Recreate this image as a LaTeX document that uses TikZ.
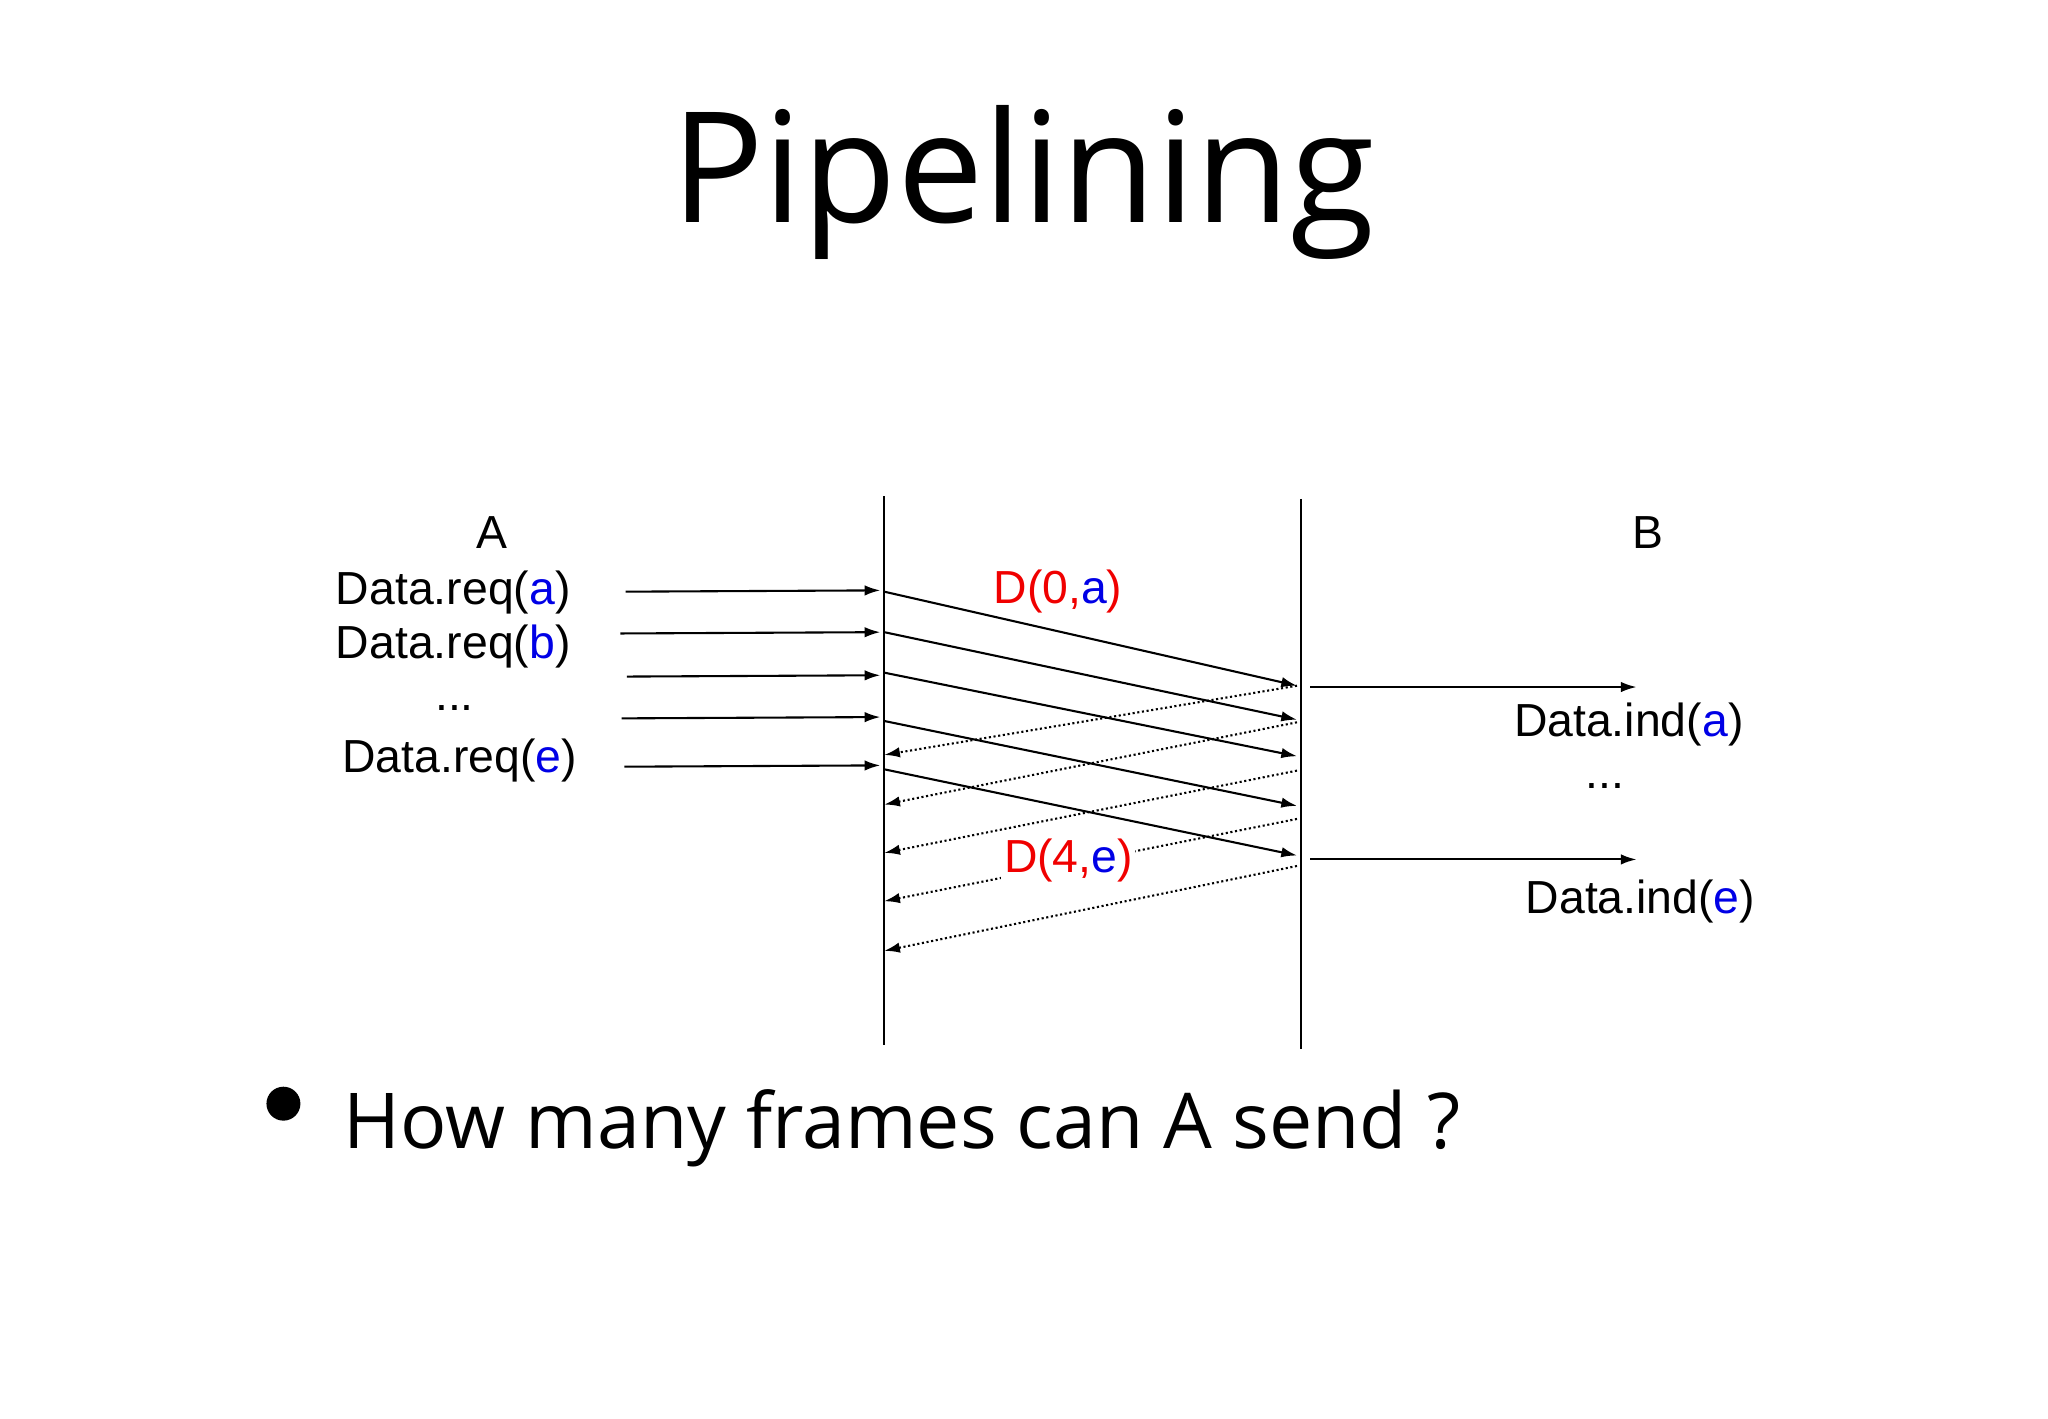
\documentclass[tikz,border=0pt]{standalone}
\usepackage{fontspec}
\setmainfont{Liberation Sans}
\newfontfamily\titlefont{Open Sans}
\usetikzlibrary{arrows.meta}
\definecolor{myblue}{RGB}{0,0,230}
\definecolor{myred}{RGB}{240,0,0}
\begin{document}
\begin{tikzpicture}[x=1pt,y=-1pt,
  lbl/.style={font=\fontsize{35.5}{40}\selectfont,inner sep=0pt},
  arr/.style={line width=1.6pt,-{Latex[length=12pt,width=8pt]}},
  ack/.style={line width=1.6pt,dotted,-{Latex[length=12pt,width=8pt]}}]
\useasboundingbox (0,0) rectangle (1568,1086);
\node[font=\titlefont\fontsize{118}{130}\selectfont] (title) at (783,140) {Pipelining};
% lifelines
\coordinate (a1) at (677,380); \coordinate (a2) at (677,800);
\coordinate (b1) at (996,382); \coordinate (b2) at (996,803);
\draw[line width=1.8pt] (a1) -- (a2);
\draw[line width=1.8pt] (b1) -- (b2);
\node[lbl] (A) at (377,408) {A};
\node[lbl] (B) at (1262,408) {B};
% requests
\node[lbl] (ra) at (347,454) {Data.req(\textcolor{myblue}{a})};
\node[lbl] (rb) at (347,495) {Data.req(\textcolor{myblue}{b})};
\node[lbl] (rd) at (348,542) {...};
\node[lbl] (re) at (352,582) {Data.req(\textcolor{myblue}{e})};
\foreach \i/\xs/\y in {1/479/453,2/475/485,3/480/518,4/476/550,5/478/587}{
  \coordinate (q\i) at (\xs,\y); \coordinate (qe\i) at (674,\y-1);
  \draw[arr] (q\i) -- (qe\i);}
% data frames
\foreach \i/\ys/\ye in {1/453/525,2/484/551,3/515/579,4/552/617,5/589/655}{
  \coordinate (ds\i) at (677,\ys); \coordinate (de\i) at (993,\ye);
  \draw[arr] (ds\i) -- (de\i);}
% acks
\foreach \i/\ys/\ye in {1/525/578,2/553/616,3/590/653,4/627/690,5/663/728}{
  \coordinate (ks\i) at (993,\ys); \coordinate (ke\i) at (677,\ye);
  \draw[ack] (ks\i) -- (ke\i);}
\node[lbl,text=myred] (d0) at (810,453) {D(0,\textcolor{myblue}{a})};
\node[lbl,text=myred,fill=white,inner sep=2pt] (d4) at (818,659) {D(4,\textcolor{myblue}{e})};
% indications
\coordinate (i1) at (1003,526); \coordinate (i1e) at (1253,526);
\coordinate (i2) at (1003,658); \coordinate (i2e) at (1253,658);
\draw[arr] (i1) -- (i1e);
\draw[arr] (i2) -- (i2e);
\node[lbl] (ia) at (1247,555) {Data.ind(\textcolor{myblue}{a})};
\node[lbl] (id) at (1229,602) {...};
\node[lbl] (ie) at (1256,690) {Data.ind(\textcolor{myblue}{e})};
% bullet
\fill (217,845) circle (13);
\node[font=\titlefont\fontsize{59}{70}\selectfont,anchor=west,inner sep=0pt] (q) at (263,864) {How many frames can A send ?};
\end{tikzpicture}
\end{document}
